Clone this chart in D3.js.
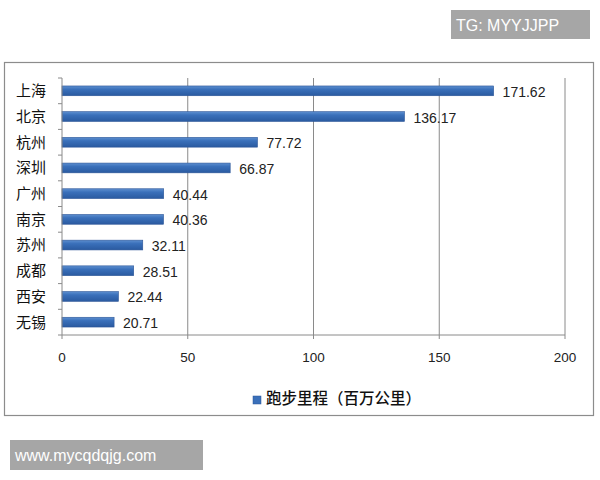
<!DOCTYPE html>
<html>
<head>
<meta charset="utf-8">
<script src="https://cdn.jsdelivr.net/npm/d3@7"></script>
<style>
  html, body { margin: 0; padding: 0; background: #fff; }
  svg { display: block; }
</style>
</head>
<body>
<svg id="chart" width="600" height="480"></svg>
<script>
// Running distance by city (millions of km)
const cities = ["上海", "北京", "杭州", "深圳", "广州", "南京", "苏州", "成都", "西安", "无锡"];
const distances = [171.62, 136.17, 77.72, 66.87, 40.44, 40.36, 32.11, 28.51, 22.44, 20.71];
const xTicks = [0, 50, 100, 150, 200];
const seriesName = "跑步里程（百万公里）";

const svg = d3.select("#chart");
const cjk = "'Noto Sans CJK SC', 'Noto Sans', sans-serif";
const latin = "'Liberation Sans', Arial, sans-serif";

// Outer frame
svg.append("rect")
  .attr("x", 4.5).attr("y", 62.5)
  .attr("width", 589).attr("height", 353)
  .attr("fill", "#fff")
  .attr("stroke", "#8c8c8c").attr("stroke-width", 1.2);

const plot = { left: 62, right: 565, top: 78, bottom: 335 };

const x = d3.scaleLinear().domain([0, 200]).range([plot.left, plot.right]);
const y = d3.scaleBand().domain(cities).range([plot.top, plot.bottom]).paddingInner(0.62).paddingOuter(0.31);

// Vertical gridlines
svg.append("g")
  .selectAll("line")
  .data(xTicks.filter(d => d > 0))
  .join("line")
  .attr("x1", d => x(d)).attr("x2", d => x(d))
  .attr("y1", plot.top).attr("y2", plot.bottom)
  .attr("stroke", "#8a8a8a").attr("stroke-width", 1);

// Bar gradient
const defs = svg.append("defs");
const grad = defs.append("linearGradient").attr("id", "barGrad")
  .attr("x1", 0).attr("y1", 0).attr("x2", 0).attr("y2", 1);
grad.append("stop").attr("offset", "0%").attr("stop-color", "#5d8fd0");
grad.append("stop").attr("offset", "35%").attr("stop-color", "#3a70ba");
grad.append("stop").attr("offset", "100%").attr("stop-color", "#2a5aa0");

// Bars
svg.append("g")
  .selectAll("rect")
  .data(cities)
  .join("rect")
  .attr("x", x(0))
  .attr("y", d => y(d))
  .attr("width", (d, i) => x(distances[i]) - x(0))
  .attr("height", y.bandwidth())
  .attr("fill", "url(#barGrad)")
  .attr("stroke", "#2b5597").attr("stroke-width", 0.6);

// Value labels
svg.append("g")
  .selectAll("text")
  .data(cities)
  .join("text")
  .attr("x", (d, i) => x(distances[i]) + 9)
  .attr("y", d => y(d) + y.bandwidth() / 2 + 1)
  .attr("dy", "0.36em")
  .attr("font-family", latin)
  .attr("font-size", 14)
  .attr("fill", "#222")
  .text((d, i) => distances[i].toFixed(2));

// Category axis
const yAxis = svg.append("g")
  .attr("transform", `translate(${plot.left},0)`);
yAxis.append("line")
  .attr("x1", 0).attr("x2", 0)
  .attr("y1", plot.top).attr("y2", plot.bottom)
  .attr("stroke", "#8a8a8a");
const step = y.step();
yAxis.selectAll("line.tick")
  .data(d3.range(cities.length + 1))
  .join("line")
  .attr("class", "tick")
  .attr("x1", -4).attr("x2", 0)
  .attr("y1", i => plot.top + i * step).attr("y2", i => plot.top + i * step)
  .attr("stroke", "#8a8a8a");
yAxis.selectAll("text")
  .data(cities)
  .join("text")
  .attr("x", -16)
  .attr("y", d => y(d) + y.bandwidth() / 2)
  .attr("dy", "0.36em")
  .attr("text-anchor", "end")
  .attr("font-family", cjk)
  .attr("font-size", 15)
  .attr("fill", "#111")
  .text(d => d);

// Value axis
const xAxis = svg.append("g")
  .attr("transform", `translate(0,${plot.bottom})`);
xAxis.append("line")
  .attr("x1", plot.left).attr("x2", plot.right)
  .attr("stroke", "#8a8a8a");
xAxis.selectAll("line.tick")
  .data(xTicks)
  .join("line")
  .attr("class", "tick")
  .attr("x1", d => x(d)).attr("x2", d => x(d))
  .attr("y1", 0).attr("y2", 4)
  .attr("stroke", "#8a8a8a");
xAxis.selectAll("text")
  .data(xTicks)
  .join("text")
  .attr("x", d => x(d))
  .attr("y", 22)
  .attr("dy", "0.36em")
  .attr("text-anchor", "middle")
  .attr("font-family", latin)
  .attr("font-size", 13.5)
  .attr("fill", "#222")
  .text(d => d);

// Legend
const legend = svg.append("g").attr("transform", "translate(253,398)");
legend.append("rect")
  .attr("x", 0).attr("y", -2).attr("width", 8).attr("height", 8)
  .attr("fill", "#3a70ba").attr("stroke", "#2b5597").attr("stroke-width", 0.5);
legend.append("text")
  .attr("x", 13).attr("y", 0)
  .attr("dy", "0.36em")
  .attr("font-family", cjk)
  .attr("font-size", 15.5)
  .attr("font-weight", 500)
  .attr("fill", "#111")
  .text(seriesName);

// Corner tags
const tagTop = svg.append("g");
tagTop.append("rect")
  .attr("x", 451).attr("y", 10).attr("width", 139).attr("height", 29)
  .attr("fill", "#a6a6a6");
tagTop.append("text")
  .attr("x", 456).attr("y", 25).attr("dy", "0.36em")
  .attr("font-family", latin).attr("font-size", 16)
  .attr("fill", "#fff")
  .text("TG: MYYJJPP");

const tagBottom = svg.append("g");
tagBottom.append("rect")
  .attr("x", 10).attr("y", 440).attr("width", 193).attr("height", 30)
  .attr("fill", "#a6a6a6");
tagBottom.append("text")
  .attr("x", 15).attr("y", 455).attr("dy", "0.36em")
  .attr("font-family", latin).attr("font-size", 16)
  .attr("fill", "#fff")
  .text("www.mycqdqjg.com");
</script>
</body>
</html>
